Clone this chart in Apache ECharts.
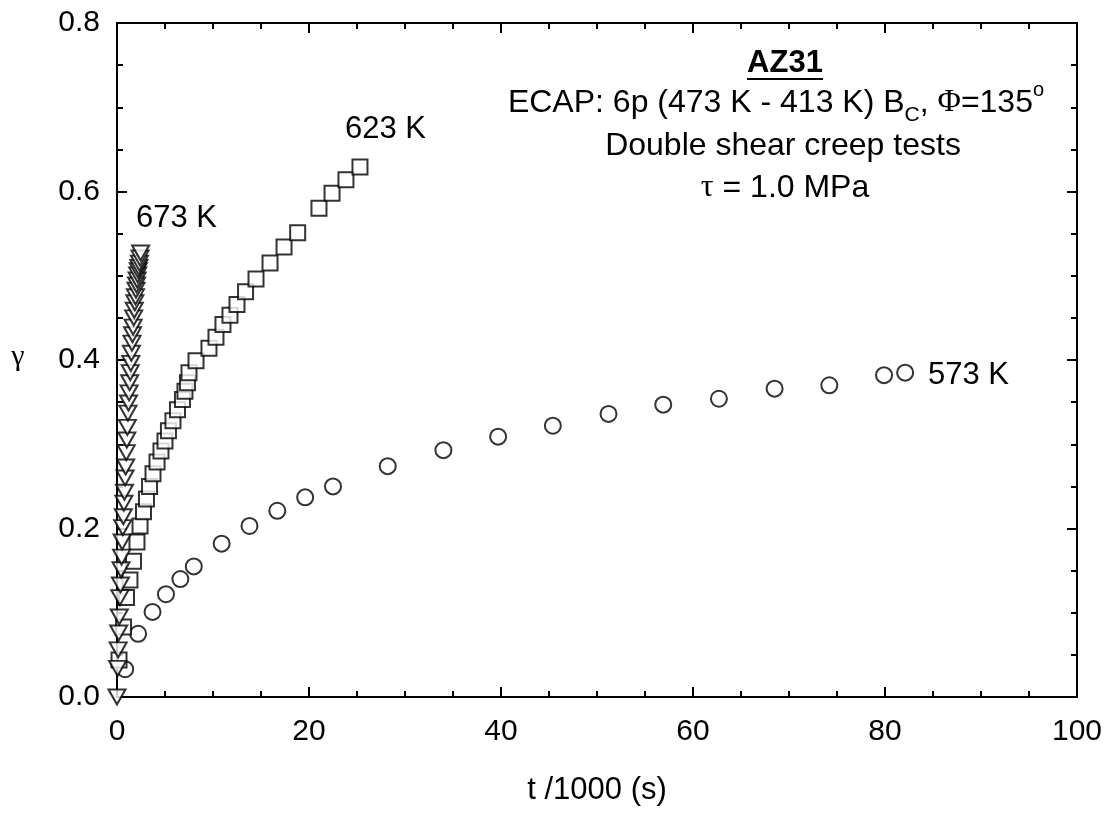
<!DOCTYPE html>
<html>
<head>
<meta charset="utf-8">
<script src="https://cdn.jsdelivr.net/npm/echarts@6/dist/echarts.min.js"></script>
<style>
  html, body { margin: 0; padding: 0; background: #fff; }
  #chart { width: 1110px; height: 813px; }
</style>
</head>
<body>
<div id="chart"></div>
<script>
// 573 K - circles
const t573 = [0.85, 2.2, 3.7, 5.1, 6.6, 8.0, 10.9, 13.8, 16.7, 19.6, 22.5, 28.2, 34.0, 39.7, 45.4, 51.2, 56.9, 62.7, 68.5, 74.2, 79.9, 82.1];
const g573 = [0.033, 0.075, 0.101, 0.122, 0.140, 0.155, 0.182, 0.203, 0.221, 0.237, 0.250, 0.274, 0.293, 0.309, 0.322, 0.336, 0.347, 0.354, 0.366, 0.370, 0.382, 0.385];

// 623 K - squares
const t623 = [0.21, 0.68, 0.99, 1.35, 1.72, 2.08, 2.40, 2.76, 3.07, 3.39, 3.75, 4.17, 4.58, 5.00, 5.36, 5.83, 6.30, 6.82, 7.08, 7.34, 7.50, 8.23, 9.58, 10.31, 11.04, 11.77, 12.50, 13.39, 14.48, 15.94, 17.40, 18.82, 21.04, 22.40, 23.85, 25.31];
const g623 = [0.044, 0.083, 0.118, 0.139, 0.161, 0.184, 0.203, 0.220, 0.235, 0.250, 0.265, 0.279, 0.292, 0.304, 0.316, 0.328, 0.341, 0.353, 0.363, 0.373, 0.385, 0.399, 0.414, 0.427, 0.442, 0.453, 0.466, 0.481, 0.496, 0.515, 0.534, 0.551, 0.580, 0.598, 0.614, 0.629];

// 673 K - down triangles
const t673 = [0.00, 0.06, 0.12, 0.18, 0.24, 0.30, 0.36, 0.42, 0.48, 0.54, 0.60, 0.66, 0.72, 0.78, 0.84, 0.90, 0.96, 1.02, 1.08, 1.14, 1.20, 1.26, 1.32, 1.38, 1.44, 1.50, 1.56, 1.62, 1.68, 1.74, 1.80, 1.86, 1.92, 1.98, 2.04, 2.10, 2.16, 2.22, 2.28, 2.34, 2.40, 2.46];
const g673 = [0.000, 0.034, 0.056, 0.076, 0.095, 0.118, 0.133, 0.151, 0.166, 0.184, 0.201, 0.214, 0.230, 0.243, 0.260, 0.273, 0.290, 0.305, 0.320, 0.337, 0.349, 0.361, 0.373, 0.385, 0.396, 0.408, 0.420, 0.430, 0.439, 0.450, 0.459, 0.468, 0.475, 0.483, 0.489, 0.495, 0.501, 0.506, 0.510, 0.515, 0.521, 0.527];

const xTicks = { min: 0, max: 100, interval: 20 };
const yTicks = { min: 0, max: 0.8, interval: 0.2 };

const font = "'Liberation Sans', Arial, sans-serif";
const serif = "'Liberation Serif', 'Times New Roman', serif";

function pairs(xs, ys) {
  return xs.map((x, i) => [x, ys[i]]);
}

function axisBase(showLabel) {
  return {
    type: 'value',
    splitLine: { show: false },
    axisLine: { show: true, onZero: false, lineStyle: { color: '#000', width: 2 } },
    axisTick: { show: true, inside: true, length: 10, lineStyle: { color: '#000', width: 2 } },
    minorTick: { show: true, splitNumber: 4, length: 6, lineStyle: { color: '#000', width: 2 } },
    axisLabel: { show: showLabel, color: '#000', fontSize: 30, fontFamily: font }
  };
}

let myChart = echarts.init(document.getElementById('chart'));

let option = {
  animation: false,
  backgroundColor: '#fff',
  grid: { left: 117, right: 33, top: 23, bottom: 116 },
  xAxis: [
    Object.assign(axisBase(true), xTicks, {
      position: 'bottom',
      axisLabel: { show: true, color: '#000', fontSize: 30, fontFamily: font, margin: 20 },
      name: 't /1000 (s)',
      nameLocation: 'middle',
      nameGap: 78,
      nameTextStyle: { color: '#000', fontSize: 31, fontFamily: font }
    }),
    Object.assign(axisBase(false), xTicks, { position: 'top' })
  ],
  yAxis: [
    Object.assign(axisBase(true), yTicks, {
      position: 'left',
      axisLabel: {
        show: true, color: '#000', fontSize: 30, fontFamily: font, margin: 17,
        formatter: v => v.toFixed(1)
      }
    }),
    Object.assign(axisBase(false), yTicks, { position: 'right' })
  ],
  series: [
    {
      name: '573 K', type: 'scatter', clip: false,
      symbol: 'circle', symbolSize: 16,
      itemStyle: { color: '#fff', borderColor: '#000', borderWidth: 2 },
      emphasis: { disabled: true },
      data: pairs(t573, g573)
    },
    {
      name: '623 K', type: 'scatter', clip: false,
      symbol: 'rect', symbolSize: 15,
      itemStyle: { color: '#fff', borderColor: '#000', borderWidth: 2 },
      emphasis: { disabled: true },
      data: pairs(t623, g623)
    },
    {
      name: '673 K', type: 'scatter', clip: false,
      symbol: 'triangle', symbolSize: [17, 15], symbolRotate: 180,
      itemStyle: { color: '#fff', borderColor: '#000', borderWidth: 2 },
      emphasis: { disabled: true },
      data: pairs(t673, g673)
    }
  ],
  graphic: [
    { type: 'text', x: 18, y: 357, style: { text: 'γ', font: '30px ' + serif, fill: '#000', textAlign: 'center', textVerticalAlign: 'middle' } },
    { type: 'text', x: 136, y: 218, style: { text: '673 K', font: '31px ' + font, fill: '#000', textVerticalAlign: 'middle' } },
    { type: 'text', x: 345, y: 129, style: { text: '623 K', font: '31px ' + font, fill: '#000', textVerticalAlign: 'middle' } },
    { type: 'text', x: 928, y: 375, style: { text: '573 K', font: '31px ' + font, fill: '#000', textVerticalAlign: 'middle' } },
    { type: 'text', x: 785, y: 63, style: { text: 'AZ31', font: 'bold 31px ' + font, fill: '#000', textAlign: 'center', textVerticalAlign: 'middle' } },
    { type: 'line', shape: { x1: 747, y1: 79, x2: 823, y2: 79 }, style: { stroke: '#000', lineWidth: 2 } },
    {
      type: 'text', x: 776, y: 103,
      style: {
        text: '{a|ECAP: 6p (473 K - 413 K) B}{sub|C}{a|, }{g|Φ}{a|=135}{sup|o}',
        textAlign: 'center', textVerticalAlign: 'middle',
        rich: {
          a: { fontSize: 32, fontFamily: font, color: '#000', lineHeight: 46, verticalAlign: 'middle' },
          g: { fontSize: 32, fontFamily: serif, color: '#000', lineHeight: 46, verticalAlign: 'middle' },
          sub: { fontSize: 21, fontFamily: font, color: '#000', lineHeight: 20, verticalAlign: 'bottom' },
          sup: { fontSize: 20, fontFamily: font, color: '#000', lineHeight: 34, verticalAlign: 'top' }
        }
      }
    },
    { type: 'text', x: 783, y: 146, style: { text: 'Double shear creep tests', font: '32px ' + font, fill: '#000', textAlign: 'center', textVerticalAlign: 'middle' } },
    {
      type: 'text', x: 785, y: 188,
      style: {
        text: '{g|τ}{a| = 1.0 MPa}',
        textAlign: 'center', textVerticalAlign: 'middle',
        rich: {
          a: { fontSize: 32, fontFamily: font, color: '#000' },
          g: { fontSize: 32, fontFamily: serif, color: '#000' }
        }
      }
    }
  ]
};

myChart.setOption(option);
</script>
</body>
</html>
